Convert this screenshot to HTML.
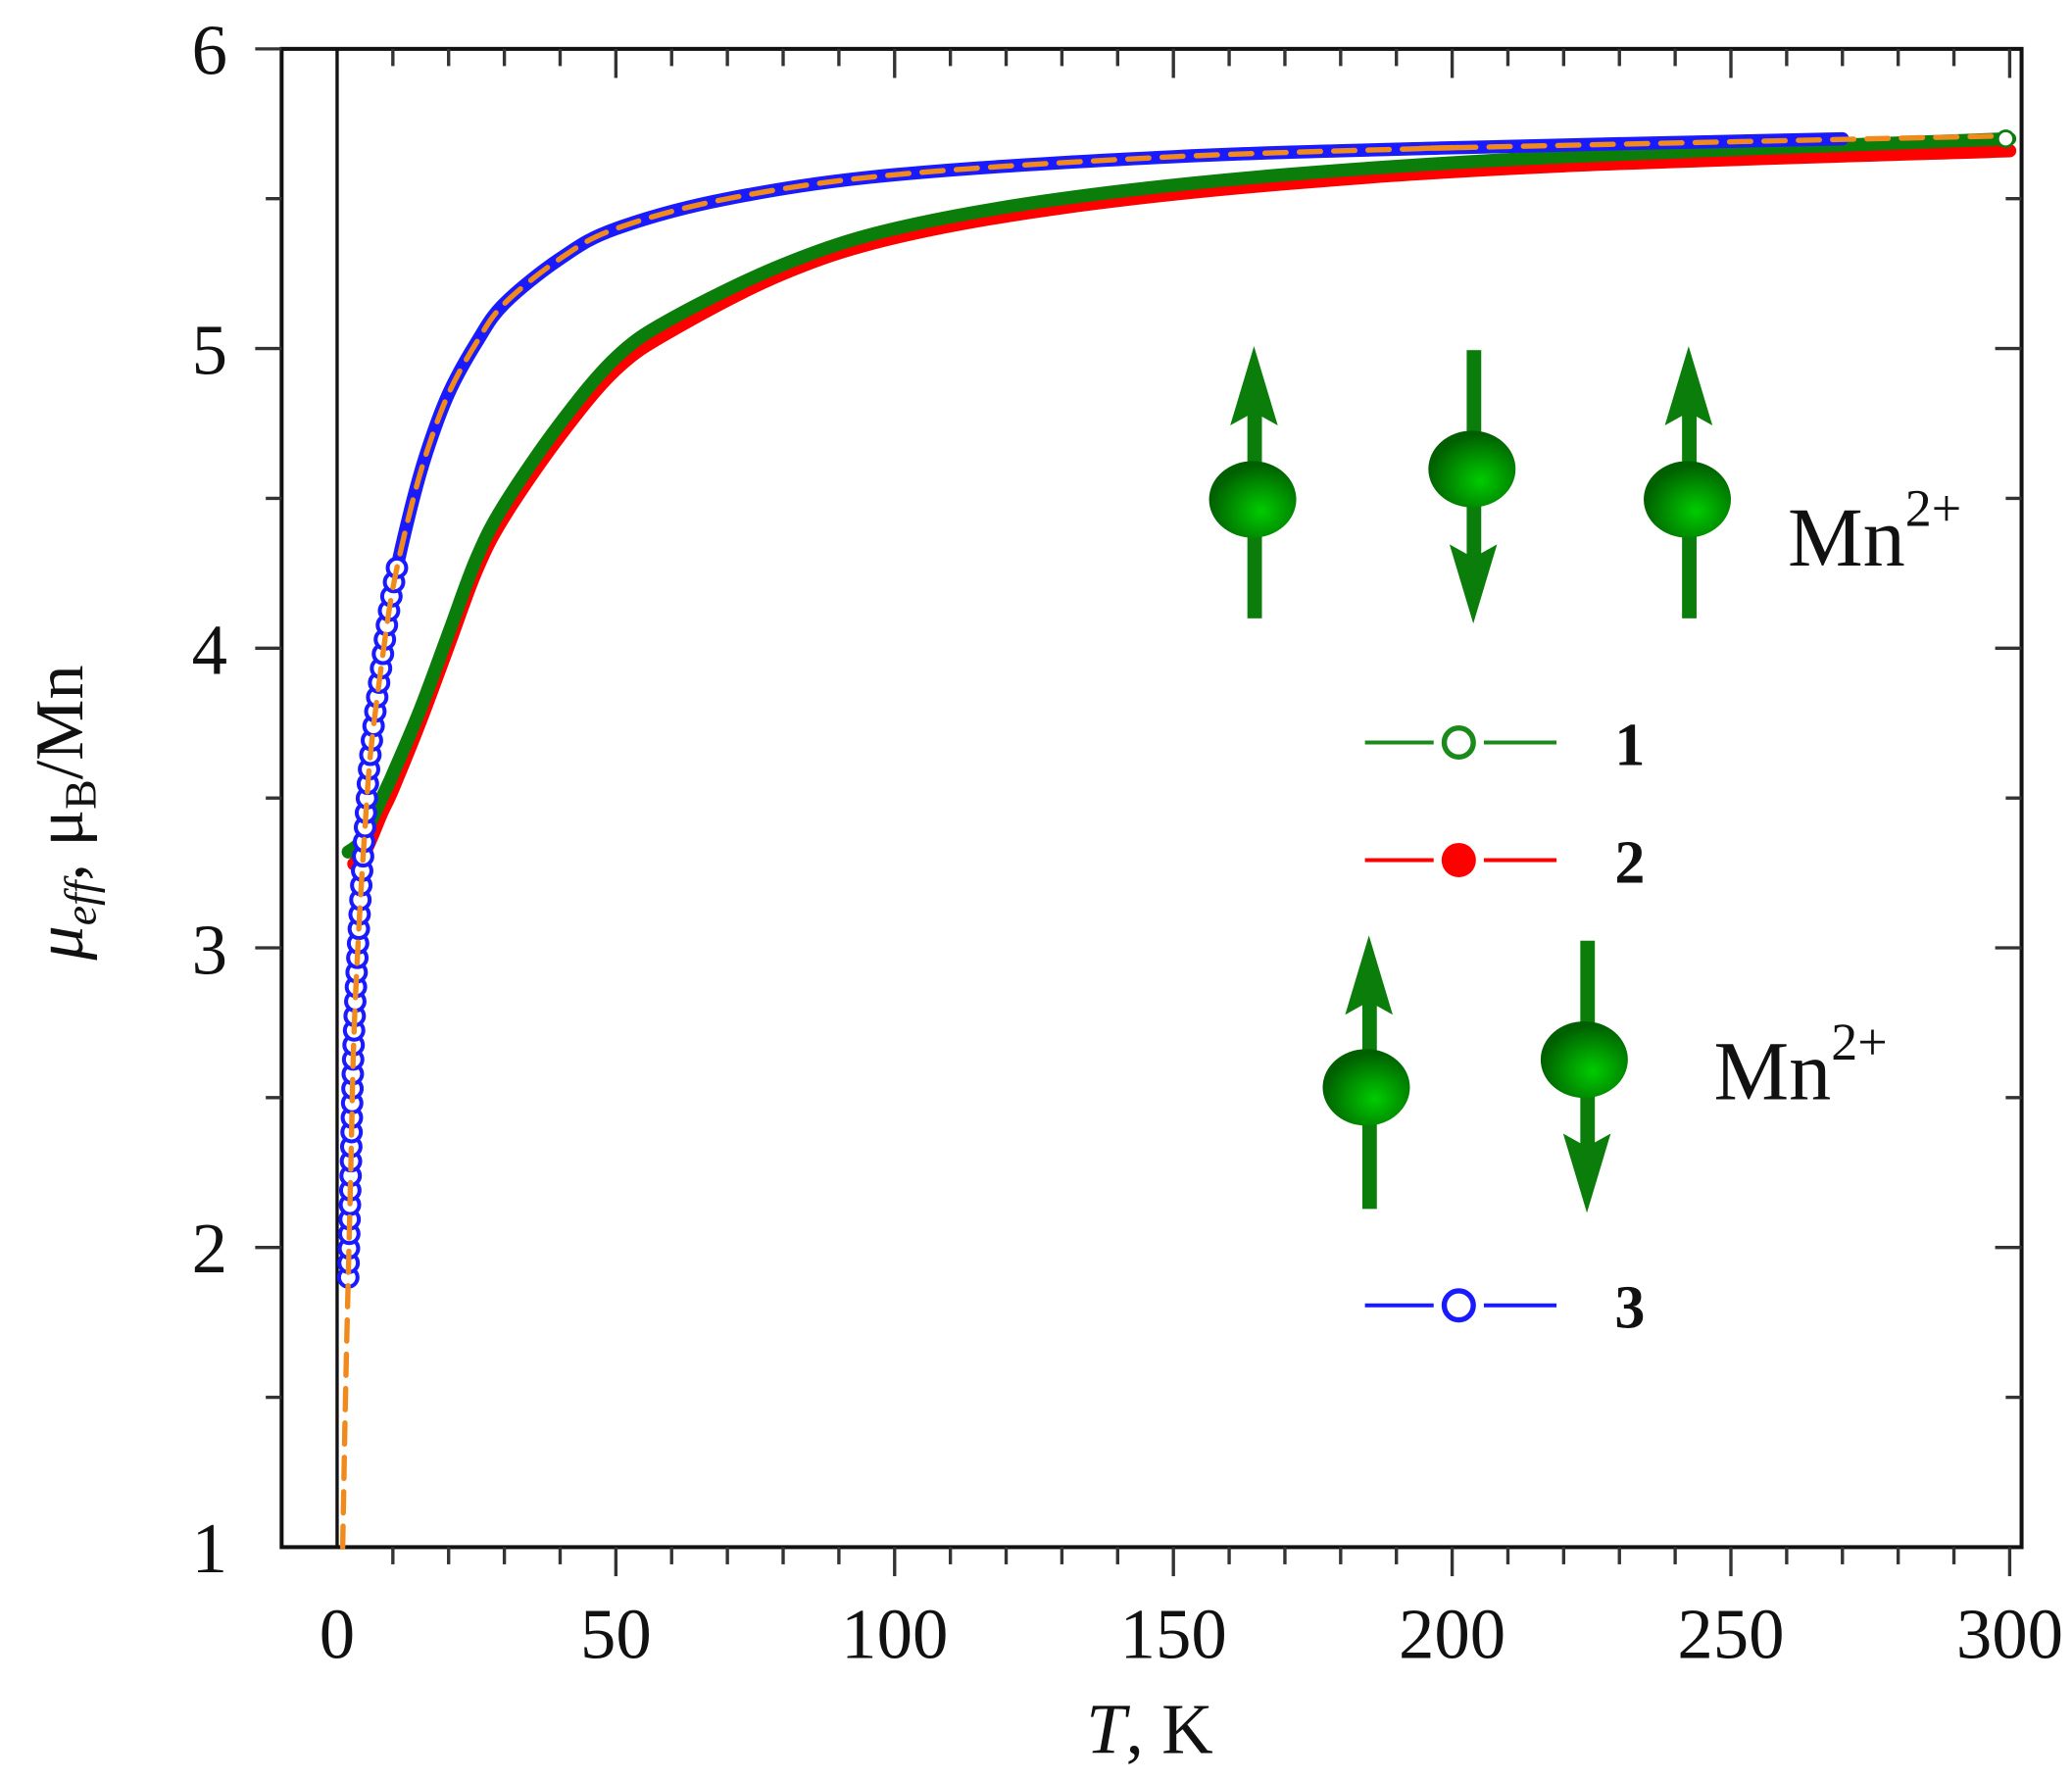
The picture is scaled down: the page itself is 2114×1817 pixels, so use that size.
<!DOCTYPE html>
<html><head><meta charset="utf-8"><style>html,body{margin:0;padding:0;background:#fff}svg{display:block}</style></head>
<body>
<svg id="s" width="2114" height="1817" viewBox="0 0 1568 1348" xmlns="http://www.w3.org/2000/svg" font-family="'Liberation Serif', serif">
<defs>
<radialGradient id="ball" cx="0.6" cy="0.65" r="0.6">
<stop offset="0" stop-color="#00cc00"/><stop offset="1" stop-color="#006000"/>
</radialGradient>
</defs>
<rect width="1568" height="1348" fill="#fff"/>
<rect x="213" y="37" width="1317" height="1134" fill="none" stroke="#111" stroke-width="3"/>
<line x1="255" y1="37" x2="255" y2="1171" stroke="#111" stroke-width="2.5"/>
<g stroke="#333" stroke-width="2.5">
<line x1="193" y1="37" x2="213" y2="37"/><line x1="201" y1="150.4" x2="213" y2="150.4"/>
<line x1="193" y1="263.8" x2="213" y2="263.8"/><line x1="201" y1="377.2" x2="213" y2="377.2"/>
<line x1="193" y1="490.6" x2="213" y2="490.6"/><line x1="201" y1="604" x2="213" y2="604"/>
<line x1="193" y1="717.4" x2="213" y2="717.4"/><line x1="201" y1="830.8" x2="213" y2="830.8"/>
<line x1="193" y1="944.2" x2="213" y2="944.2"/><line x1="201" y1="1057.6" x2="213" y2="1057.6"/>
<line x1="1510" y1="263.8" x2="1530" y2="263.8"/><line x1="1518" y1="150.4" x2="1530" y2="150.4"/>
<line x1="1518" y1="377.2" x2="1530" y2="377.2"/><line x1="1510" y1="490.6" x2="1530" y2="490.6"/>
<line x1="1518" y1="604" x2="1530" y2="604"/><line x1="1510" y1="717.4" x2="1530" y2="717.4"/>
<line x1="1518" y1="830.8" x2="1530" y2="830.8"/><line x1="1510" y1="944.2" x2="1530" y2="944.2"/>
<line x1="1518" y1="1057.6" x2="1530" y2="1057.6"/>
</g>
<g id="xt" stroke="#333" stroke-width="2.5"></g>
<g font-size="54" fill="#111" text-anchor="end">
<text x="172" y="56">6</text><text x="172" y="283">5</text><text x="172" y="510">4</text>
<text x="172" y="737">3</text><text x="172" y="963">2</text><text x="172" y="1190">1</text>
</g>
<g font-size="54" fill="#111" text-anchor="middle">
<text x="255" y="1255">0</text><text x="466" y="1255">50</text><text x="677" y="1255">100</text>
<text x="888" y="1255">150</text><text x="1099" y="1255">200</text><text x="1310" y="1255">250</text><text x="1521" y="1255">300</text>
</g>
<text x="870" y="1327" font-size="54" text-anchor="middle" fill="#111"><tspan font-style="italic">T</tspan>, K</text>
<text transform="translate(62,615) rotate(-90)" font-size="52" text-anchor="middle" fill="#111"><tspan font-style="italic">μ</tspan><tspan font-style="italic" font-size="34" dy="10">eff</tspan><tspan dy="-10">, μ</tspan><tspan font-size="34" dy="10">B</tspan><tspan dy="-10">/Mn</tspan></text>
<g id="data"></g>
<g stroke-width="3">
<line x1="1033" y1="562" x2="1085" y2="562" stroke="#1a8a1a"/><line x1="1123" y1="562" x2="1178" y2="562" stroke="#1a8a1a"/>
<circle cx="1104" cy="562" r="11" fill="#fff" stroke="#1a8a1a" stroke-width="4"/>
<line x1="1033" y1="651" x2="1085" y2="651" stroke="#ff0000"/><line x1="1123" y1="651" x2="1178" y2="651" stroke="#ff0000"/>
<circle cx="1104" cy="651" r="13" fill="#ff0000" stroke="none"/>
<line x1="1033" y1="988" x2="1085" y2="988" stroke="#1a1aff"/><line x1="1123" y1="988" x2="1178" y2="988" stroke="#1a1aff"/>
<circle cx="1104" cy="988" r="11" fill="#fff" stroke="#1a1aff" stroke-width="4"/>
</g>
<g font-size="46" font-weight="bold" fill="#111">
<text x="1222" y="579">1</text><text x="1222" y="668">2</text><text x="1222" y="1005">3</text>
</g>
<g fill="#0a7d0a">
<rect x="944" y="300" width="11" height="168"/><path d="M949,262 L967,322 L949,312 L931,322 Z"/>
<ellipse cx="948" cy="378" rx="33" ry="29" fill="url(#ball)"/>
<rect x="1110" y="265" width="11" height="170"/><path d="M1115,472 L1133,412 L1115,422 L1097,412 Z"/>
<ellipse cx="1114" cy="355" rx="33" ry="29" fill="url(#ball)"/>
<rect x="1273" y="300" width="11" height="168"/><path d="M1278,262 L1296,322 L1278,312 L1260,322 Z"/>
<ellipse cx="1277" cy="378" rx="33" ry="29" fill="url(#ball)"/>
<rect x="1031" y="745" width="11" height="170"/><path d="M1036,708 L1054,768 L1036,758 L1018,768 Z"/>
<ellipse cx="1034" cy="823" rx="33" ry="29" fill="url(#ball)"/>
<rect x="1196" y="712" width="11" height="170"/><path d="M1201,918 L1219,858 L1201,868 L1183,858 Z"/>
<ellipse cx="1199" cy="802" rx="33" ry="29" fill="url(#ball)"/>
</g>
<g font-size="64" fill="#111">
<text x="1353" y="428">Mn<tspan font-size="40" dy="-30">2+</tspan></text>
<text x="1297" y="832">Mn<tspan font-size="40" dy="-30">2+</tspan></text>
</g>
</svg>
<script>
(function(){
var NS='http://www.w3.org/2000/svg';
var g=document.getElementById('xt'),s='';
for(var t=10;t<=300;t+=10){var x=255+4.22*t,maj=(t%50==0);
s+='<line x1="'+x+'" y1="1171" x2="'+x+'" y2="'+(maj?1193:1184)+'"/>';
s+='<line x1="'+x+'" y1="37" x2="'+x+'" y2="'+(maj?59:50)+'"/>';}
g.innerHTML=s;
function X(t){return 255+4.22*t} function Y(v){return 37+(6-v)*226.8}
function cr(pts){var p=pts.map(function(a){return [X(a[0]),Y(a[1])]});
var d='M'+p[0][0]+','+p[0][1];
for(var i=0;i<p.length-1;i++){var p0=p[i-1]||p[i],p1=p[i],p2=p[i+1],p3=p[i+2]||p2;
d+=' C'+(p1[0]+(p2[0]-p0[0])/6)+','+(p1[1]+(p2[1]-p0[1])/6)+' '+(p2[0]-(p3[0]-p1[0])/6)+','+(p2[1]-(p3[1]-p1[1])/6)+' '+p2[0]+','+p2[1];}
return d;}
var blue=[[2,1.9],[2.5,2.3],[3,2.7],[4,3.1],[5,3.4],[6,3.65],[8,3.95],[10,4.2],[13,4.45],[16,4.65],[20,4.85],[25,5.02],[30,5.15],[40,5.3],[50,5.4],[70,5.5],[100,5.58],[150,5.64],[200,5.67],[270,5.7]];
var fit=[[1.0,1.0],[1.5,1.5]].concat(blue).slice(0,-1).concat([[200,5.67],[300,5.71]]);
var green=[[2,3.32],[4,3.35],[6,3.42],[8,3.5],[10,3.58],[15,3.8],[20,4.05],[25,4.3],[30,4.48],[40,4.75],[50,4.97],[60,5.1],[80,5.28],[100,5.4],[130,5.5],[170,5.58],[220,5.64],[300,5.7]];
var red=[[3,3.28],[5,3.32],[8,3.45],[10,3.53],[15,3.76],[20,4.01],[25,4.26],[30,4.44],[40,4.71],[50,4.93],[60,5.06],[80,5.25],[100,5.37],[130,5.47],[170,5.55],[220,5.61],[300,5.66]];
var d=document.getElementById('data');
function path(dd,col,w,extra){var e=document.createElementNS(NS,'path');e.setAttribute('d',dd);e.setAttribute('fill','none');
e.setAttribute('stroke',col);e.setAttribute('stroke-width',w);e.setAttribute('stroke-linejoin','round');e.setAttribute('stroke-linecap','round');
if(extra)e.setAttribute('stroke-dasharray',extra);d.appendChild(e);return e;}
path(cr(red),'#ff0000',10);
var gp=path(cr(green),'#0a7d0a',10);
var bp=path(cr(blue),'#1a1aff',10);
// circles on blue low-T part
var L=bp.getTotalLength(),step=11;
for(var l=0;l<L;l+=step){var pt=bp.getPointAtLength(l);if(pt.y<420)break;
var c=document.createElementNS(NS,'circle');c.setAttribute('cx',pt.x);c.setAttribute('cy',pt.y);c.setAttribute('r',7);
c.setAttribute('fill','#fff');c.setAttribute('stroke','#1a1aff');c.setAttribute('stroke-width',3);d.appendChild(c);}
path(cr(fit),'#f08a1c',4,'16 10');
var c=document.createElementNS(NS,'circle');c.setAttribute('cx',X(300)-3);c.setAttribute('cy',Y(5.7));c.setAttribute('r',6);
c.setAttribute('fill','#fff');c.setAttribute('stroke','#0a7d0a');c.setAttribute('stroke-width',2);d.appendChild(c);
})();
</script>
</body></html>
